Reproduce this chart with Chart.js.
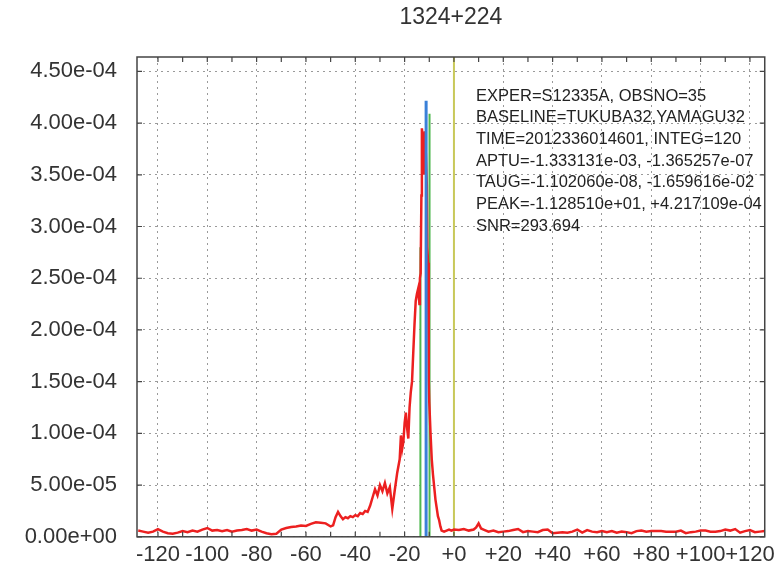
<!DOCTYPE html>
<html>
  <head>
    <title>1324+224 fringe</title>
    <script src="https://cdn.jsdelivr.net/npm/chart.js@4.4.0/dist/chart.umd.min.js"></script>
    <style>
      body { margin: 0; background: #fff; }
    </style>
  </head>
  <body>
    <canvas id="FringeChart" width="780" height="570"></canvas>
    <script>
      // --- data ---
      const titleText = '1324+224';
      const infoLines = [
        'EXPER=S12335A, OBSNO=35',
        'BASELINE=TUKUBA32,YAMAGU32',
        'TIME=2012336014601, INTEG=120',
        'APTU=-1.333131e-03, -1.365257e-07',
        'TAUG=-1.102060e-08, -1.659616e-02',
        'PEAK=-1.128510e+01, +4.217109e-04',
        'SNR=293.694'
      ];

      const xTickVals = [-120, -100, -80, -60, -40, -20, 0, 20, 40, 60, 80, 100, 120];
      const xTickLabels = ['-120', '-100', '-80', '-60', '-40', '-20', '+0', '+20', '+40', '+60', '+80', '+100', '+120'];
      const yTickVals = [0, 5e-5, 1e-4, 1.5e-4, 2e-4, 2.5e-4, 3e-4, 3.5e-4, 4e-4, 4.5e-4];
      const yTickLabels = ['0.00e+00', '5.00e-05', '1.00e-04', '1.50e-04', '2.00e-04', '2.50e-04', '3.00e-04', '3.50e-04', '4.00e-04', '4.50e-04'];

      // lag axis and amplitude (amplitude in units of 1e-6)
      const redLag = [
        -128, -126, -124, -122, -120, -118, -116, -114, -112, -110, -108, -106, -104, -102, -100,
        -98, -96, -94, -92, -90, -88, -86, -84, -82, -80, -78, -76, -74, -72, -70, -68, -66, -64,
        -62, -60, -58, -56, -54, -52, -50, -49, -48, -47, -46, -45, -44, -43, -42, -41, -40, -39,
        -38, -37, -36, -35, -34, -33, -32, -31, -30, -29, -28, -27, -26, -25, -24, -23, -22,
        -21.5, -21, -20.5, -20, -19.5, -19, -18.5, -18, -17.5, -17, -16.5, -16, -15.5, -15, -14.5,
        -14, -13.8, -13.5, -13.2, -13, -12.6, -12.2, -11.8, -11.4, -11, -10.8, -10.5, -10.2, -10,
        -9.5, -9, -8.5, -8, -7.5, -7, -6.5, -6, -5.5, -5, -4, -3, -2, -1,
        0, 2, 4, 6, 8, 9, 10, 11, 12, 14, 16, 18, 20, 22, 24, 26, 28, 30, 32, 34, 36, 38, 40,
        42, 44, 46, 48, 50, 52, 54, 56, 58, 60, 62, 64, 66, 68, 70, 72, 74, 76, 78, 80, 82, 84,
        86, 88, 90, 92, 94, 96, 98, 100, 102, 104, 106, 108, 110, 112, 114, 116, 118, 120, 122,
        124, 126
      ];
      const redAmpE6 = [
        6, 5, 4, 5, 7.5, 5, 3.5, 3, 4, 5.5, 4.5, 6, 5, 7, 8.5,
        6, 6.5, 5.5, 6.5, 5, 6, 6.5, 7.5, 6, 7, 5, 3.5, 2.5, 3, 7, 8.5, 9.5, 10,
        11, 10.5, 12.5, 14, 13.5, 13, 10, 11, 19, 24, 20, 17, 19, 18, 20, 19, 21, 20,
        23, 22, 25, 24, 30, 38, 46, 40, 50, 44, 52, 42, 48, 27, 45, 62, 75,
        98, 85, 92, 110, 120, 105, 95, 125, 140, 150, 178, 205, 228, 235, 240,
        225, 250, 255, 330, 395, 385, 350, 392, 370, 340, 280, 265, 150, 130,
        100, 75, 60, 48, 36, 28, 20, 16, 10, 6, 5, 6, 7, 6,
        7, 6.5, 7.5, 6, 7, 9, 13, 8, 7, 5, 6, 4.5, 5, 5.5, 6.5, 7.5, 4.5, 5.5, 5, 4.5, 6.5, 7, 3.5,
        4, 4.5, 4, 5, 7, 4, 6.5, 5, 4.5, 5.5, 4.5, 5.5, 4, 5, 4.5, 3.5, 5.5, 6, 5, 5.5, 5.5, 5.5,
        5, 5, 5, 6, 3.5, 4.5, 5, 6, 6, 5, 5, 5.5, 7, 6, 7.5, 4, 5.5, 6.5, 4.5,
        5, 5.5
      ];

      const peakLag = -11.285;
      const peakAmp = 4.217109e-4;
      const greenLags = [-13.6, -9.9];
      const greenTops = [2.8e-4, 4.09e-4];
      const markerLag = 0;

      const xMin = -128.5, xMax = 126;
      const yMin = 0, yMax = 4.639e-4;

      // --- build datasets ---
      const redPoints = redLag.map((x, i) => ({ x: x, y: redAmpE6[i] * 1e-6 }));
      const bluePoints = [{ x: peakLag, y: 0 }, { x: peakLag, y: peakAmp }];
      const greenSets = greenLags.map((x, i) => ({
        data: [{ x: x, y: 0 }, { x: x, y: greenTops[i] }],
        borderColor: '#4fb84f', borderWidth: 2, showLine: true, pointRadius: 0
      }));
      const yellowPoints = [{ x: markerLag, y: yMin }, { x: markerLag, y: yMax }];

      const font = "'Liberation Sans', Arial, Helvetica, sans-serif";

      // frame, inward ticks, title and info text
      const decor = {
        id: 'decor',
        afterDraw(chart) {
          const ctx = chart.ctx, a = chart.chartArea;
          const xs = chart.scales.x, ys = chart.scales.y;
          ctx.save();
          ctx.strokeStyle = '#444';
          ctx.lineWidth = 1.5;
          ctx.strokeRect(a.left, a.top, a.right - a.left, a.bottom - a.top);

          ctx.lineWidth = 1.2;
          ctx.beginPath();
          for (let i = 0; i < xTickVals.length; i++) {
            const vals = [xTickVals[i]];
            if (i < xTickVals.length - 1) vals.push((xTickVals[i] + xTickVals[i + 1]) / 2);
            vals.forEach(v => {
              const px = xs.getPixelForValue(v);
              ctx.moveTo(px, a.bottom); ctx.lineTo(px, a.bottom - 5);
              ctx.moveTo(px, a.top); ctx.lineTo(px, a.top + 5);
            });
          }
          yTickVals.forEach(v => {
            const py = ys.getPixelForValue(v);
            ctx.moveTo(a.left, py); ctx.lineTo(a.left + 5, py);
            ctx.moveTo(a.right, py); ctx.lineTo(a.right - 5, py);
          });
          ctx.stroke();

          ctx.fillStyle = '#333';
          ctx.textAlign = 'center';
          ctx.textBaseline = 'middle';
          ctx.font = '23px ' + font;
          ctx.fillText(titleText, (a.left + a.right) / 2, 18);

          ctx.fillStyle = '#222';
          ctx.textAlign = 'left';
          ctx.font = '16.5px ' + font;
          infoLines.forEach((t, i) => ctx.fillText(t, 476, 96 + i * 21.7));
          ctx.restore();
        }
      };

      const ctx = document.getElementById('FringeChart').getContext('2d');
      const chart = new Chart(ctx, {
        type: 'scatter',
        data: {
          datasets: [
            { data: bluePoints, borderColor: '#3a80d8', borderWidth: 3, showLine: true, pointRadius: 0 },
            { data: redPoints, borderColor: '#ec2020', borderWidth: 2.5, showLine: true, pointRadius: 0 },
            ...greenSets,
            { data: yellowPoints, borderColor: '#c9c95a', borderWidth: 2, showLine: true, pointRadius: 0 }
          ]
        },
        options: {
          responsive: false,
          animation: false,
          layout: { padding: { top: 57, right: 12, left: 0, bottom: 0 } },
          plugins: { legend: { display: false }, tooltip: { enabled: false }, title: { display: false } },
          scales: {
            x: {
              type: 'linear',
              min: xMin,
              max: xMax,
              afterBuildTicks: s => { s.ticks = xTickVals.map(v => ({ value: v })); },
              afterFit: s => { s.height = 32; },
              grid: { color: '#9a9a9a', lineWidth: 1, drawTicks: false },
              border: { display: false, dash: [2, 4] },
              ticks: {
                padding: 5,
                maxRotation: 0,
                autoSkip: false,
                color: '#333',
                font: { family: font, size: 22 },
                callback: (v, i) => xTickLabels[i]
              }
            },
            y: {
              type: 'linear',
              min: yMin,
              max: yMax,
              afterBuildTicks: s => { s.ticks = yTickVals.map(v => ({ value: v })); },
              afterFit: s => { s.width = 137; },
              grid: { color: '#9a9a9a', lineWidth: 1, drawTicks: false },
              border: { display: false, dash: [2, 4] },
              ticks: {
                padding: 20,
                autoSkip: false,
                color: '#333',
                font: { family: font, size: 22 },
                callback: (v, i) => yTickLabels[i]
              }
            }
          }
        },
        plugins: [decor]
      });
    </script>
  </body>
</html>
